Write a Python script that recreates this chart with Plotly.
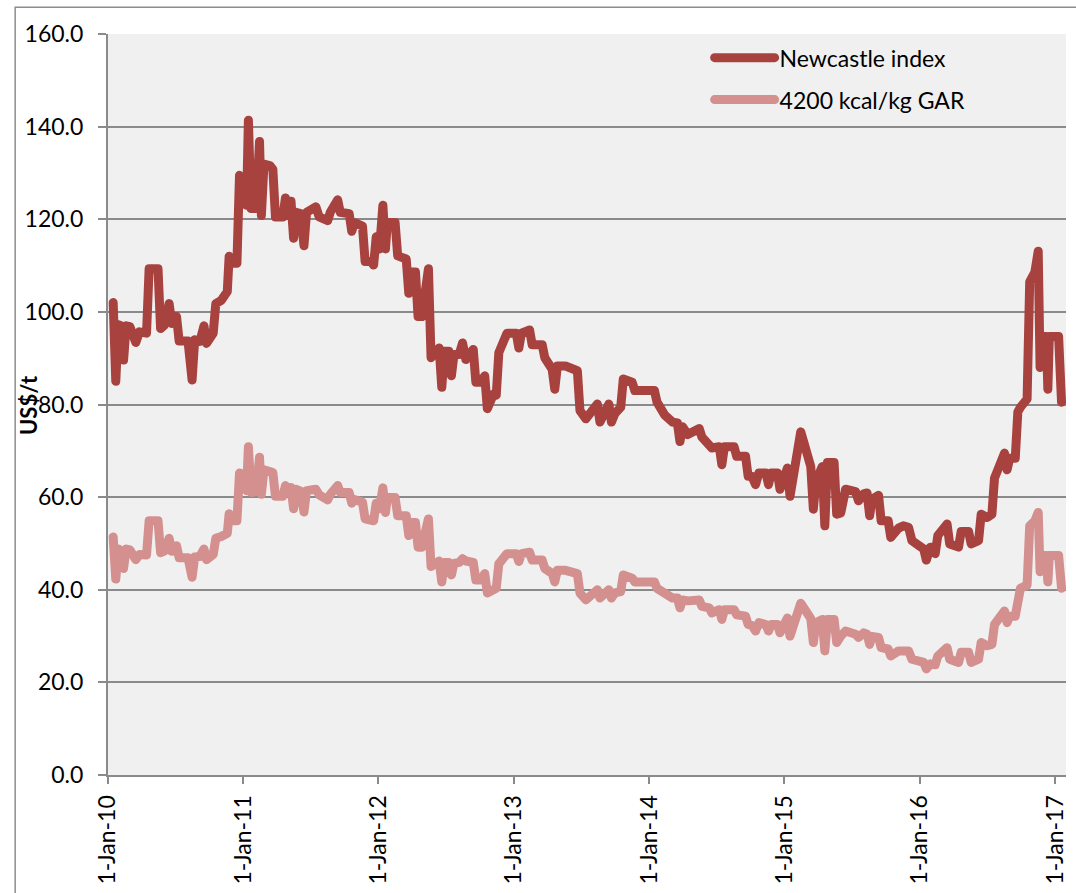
import plotly.graph_objects as go

# Weekly thermal coal prices, US$/t
dates = [
    # 2010
    "2010-01-15", "2010-01-22", "2010-01-29", "2010-02-05", "2010-02-12", "2010-02-19",
    "2010-03-01", "2010-03-17", "2010-03-27", "2010-04-15", "2010-04-22", "2010-05-16",
    "2010-05-23", "2010-06-03", "2010-06-15", "2010-06-22", "2010-07-05", "2010-07-12",
    "2010-08-05", "2010-08-16", "2010-08-23", "2010-09-06", "2010-09-17", "2010-09-24",
    "2010-10-12", "2010-10-19", "2010-11-03", "2010-11-19", "2010-11-24", "2010-12-01",
    "2010-12-15", "2010-12-22", "2010-12-29",
    # 2011
    "2011-01-05", "2011-01-10", "2011-01-15", "2011-01-22", "2011-02-05", "2011-02-14",
    "2011-02-19", "2011-02-26", "2011-03-14", "2011-03-22", "2011-03-29", "2011-04-18",
    "2011-04-25", "2011-05-02", "2011-05-10", "2011-05-17", "2011-05-23", "2011-06-05",
    "2011-06-14", "2011-06-21", "2011-07-16", "2011-07-25", "2011-08-17", "2011-08-24",
    "2011-09-13", "2011-09-20", "2011-10-14", "2011-10-21", "2011-10-28", "2011-11-19",
    "2011-11-26", "2011-12-12", "2011-12-19", "2011-12-26",
    # 2012
    "2012-01-04", "2012-01-13", "2012-01-20", "2012-01-25", "2012-02-15", "2012-02-22",
    "2012-03-16", "2012-03-23", "2012-03-29", "2012-04-10", "2012-04-17", "2012-04-27",
    "2012-05-15", "2012-05-22", "2012-06-13", "2012-06-20", "2012-06-27", "2012-07-09",
    "2012-07-16", "2012-07-23", "2012-08-06", "2012-08-15", "2012-08-24", "2012-09-13",
    "2012-09-20", "2012-10-03", "2012-10-14", "2012-10-21", "2012-11-07", "2012-11-14",
    "2012-11-21", "2012-12-13",
    # 2013
    "2013-01-07", "2013-01-14", "2013-01-21", "2013-02-12", "2013-02-19", "2013-03-18",
    "2013-03-25", "2013-04-14", "2013-04-21", "2013-04-28", "2013-05-20", "2013-06-21",
    "2013-06-28", "2013-07-14", "2013-08-14", "2013-08-21", "2013-09-14", "2013-09-21",
    "2013-09-30", "2013-10-16", "2013-10-23", "2013-11-16", "2013-11-23",
    # 2014
    "2014-01-15", "2014-01-22", "2014-02-12", "2014-03-05", "2014-03-18", "2014-03-25",
    "2014-04-01", "2014-04-15", "2014-05-16", "2014-05-23", "2014-06-12", "2014-06-19",
    "2014-07-09", "2014-07-16", "2014-07-23", "2014-08-18", "2014-08-25", "2014-09-18",
    "2014-09-25", "2014-10-05", "2014-10-15", "2014-10-24", "2014-11-12", "2014-11-19",
    "2014-11-26", "2014-12-13", "2014-12-20",
    # 2015
    "2015-01-09", "2015-01-16", "2015-01-31", "2015-02-14", "2015-03-13", "2015-03-20",
    "2015-03-27", "2015-04-13", "2015-04-20", "2015-04-27", "2015-05-15", "2015-05-22",
    "2015-06-02", "2015-06-15", "2015-07-12", "2015-07-20", "2015-08-03", "2015-08-12",
    "2015-08-19", "2015-08-25", "2015-09-12", "2015-09-19", "2015-10-08", "2015-10-15",
    "2015-11-05", "2015-11-18", "2015-12-02", "2015-12-11",
    # 2016
    "2016-01-12", "2016-01-19", "2016-01-30", "2016-02-12", "2016-02-19", "2016-03-15",
    "2016-03-22", "2016-04-15", "2016-04-22", "2016-05-12", "2016-05-19", "2016-06-08",
    "2016-06-15", "2016-07-01", "2016-07-14", "2016-07-21", "2016-08-01", "2016-08-17",
    "2016-08-24", "2016-08-31", "2016-09-15", "2016-09-22", "2016-09-29", "2016-10-17",
    "2016-10-24", "2016-11-07", "2016-11-16", "2016-11-21", "2016-11-25", "2016-12-01",
    "2016-12-08", "2016-12-12", "2016-12-16",
    # 2017
    "2017-01-10", "2017-01-18",
]

newcastle = [
    # 2010
    102.0, 85.0, 97.2, 97.0, 89.6, 97.0,
    96.8, 93.4, 95.7, 95.4, 109.3, 109.3,
    96.4, 97.2, 101.8, 97.5, 99.0, 93.7,
    93.7, 85.3, 94.0, 93.6, 97.0, 93.2,
    95.4, 101.8, 102.5, 104.4, 112.0, 110.5,
    110.5, 129.5, 128.4,
    # 2011
    123.0, 123.0, 141.4, 122.3, 122.3, 136.8,
    120.8, 131.9, 131.6, 130.8, 120.5, 120.5,
    124.6, 120.8, 123.9, 115.9, 121.5, 121.2,
    114.3, 121.5, 122.7, 120.5, 119.7, 121.5,
    124.2, 121.5, 121.2, 117.4, 119.3, 118.5,
    110.9, 110.9, 110.1, 116.2,
    # 2012
    113.6, 123.0, 113.6, 119.3, 119.3, 112.1,
    111.4, 104.0, 108.6, 108.6, 99.0, 99.0,
    109.3, 90.1, 92.2, 83.7, 91.5, 91.5,
    86.2, 90.8, 90.8, 93.3, 89.7, 91.9,
    84.8, 84.8, 86.2, 79.1, 82.3, 82.0,
    91.2, 95.4,
    # 2013
    95.4, 92.2, 95.4, 96.1, 92.9, 92.9,
    90.1, 87.6, 83.3, 88.3, 88.3, 87.3,
    78.7, 76.9, 80.1, 76.2, 80.1, 76.2,
    78.0, 79.4, 85.5, 84.8, 83.0,
    # 2014
    83.0, 80.5, 77.7, 76.2, 76.0, 72.0,
    75.2, 73.5, 74.8, 73.0, 71.6, 70.6,
    70.9, 67.0, 70.9, 70.9, 68.8, 68.8,
    64.5, 64.5, 62.7, 65.2, 65.2, 62.7,
    65.2, 65.2, 61.7,
    # 2015
    66.3, 60.2, 66.3, 74.1, 66.6, 57.4,
    63.4, 66.6, 53.8, 67.5, 67.5, 56.3,
    56.6, 61.7, 61.2, 59.2, 60.7, 60.9,
    56.0, 59.5, 60.4, 54.9, 54.9, 51.3,
    53.3, 53.8, 53.5, 50.6,
    # 2016
    48.8, 46.4, 49.2, 47.8, 51.7, 54.2,
    49.9, 49.2, 52.6, 52.6, 49.9, 50.6,
    56.3, 55.6, 56.3, 64.1, 66.3, 69.5,
    65.9, 68.4, 68.4, 78.4, 79.4, 81.2,
    106.5, 108.6, 113.1, 88.0, 89.0, 94.7,
    94.7, 83.3, 94.7,
    # 2017
    94.7, 80.5,
]

gar4200 = [
    # 2010
    51.4, 42.3, 48.8, 48.5, 44.6, 48.8,
    48.6, 46.5, 47.6, 47.5, 54.9, 54.9,
    48.0, 48.4, 51.1, 48.3, 49.5, 46.9,
    46.9, 42.7, 47.1, 47.2, 48.8, 46.5,
    47.6, 51.1, 51.5, 52.2, 56.4, 54.9,
    54.9, 65.2, 65.0,
    # 2011
    61.4, 61.4, 70.9, 61.0, 61.2, 68.6,
    60.6, 65.9, 65.5, 65.3, 60.2, 60.2,
    62.5, 61.0, 62.1, 57.5, 61.7, 61.3,
    56.8, 61.4, 61.7, 60.5, 59.4, 60.6,
    62.5, 61.0, 61.0, 58.7, 59.5, 58.9,
    55.3, 55.3, 54.9, 58.7,
    # 2012
    57.5, 62.0, 56.7, 59.9, 59.9, 56.0,
    56.0, 51.7, 54.5, 54.5, 49.2, 49.2,
    55.3, 45.0, 46.2, 41.7, 45.9, 45.9,
    43.2, 45.7, 45.9, 46.7, 46.2, 45.9,
    42.1, 42.1, 43.5, 39.3, 40.3, 40.3,
    45.6, 47.8,
    # 2013
    47.8, 46.1, 47.8, 48.1, 46.4, 46.4,
    44.6, 43.5, 41.7, 44.2, 44.2, 43.5,
    39.3, 37.8, 40.0, 38.2, 40.0, 38.2,
    39.3, 39.6, 43.2, 42.5, 41.7,
    # 2014
    41.7, 40.3, 39.0, 38.2, 38.2, 36.1,
    37.8, 37.6, 37.8, 36.4, 36.1, 35.0,
    35.7, 33.6, 35.7, 35.7, 34.6, 34.3,
    32.5, 32.3, 31.1, 32.9, 32.5, 31.1,
    32.5, 32.5, 30.7,
    # 2015
    33.9, 30.0, 33.6, 37.1, 33.8, 28.6,
    32.9, 33.6, 26.8, 33.6, 33.6, 28.6,
    30.0, 31.1, 30.4, 29.7, 30.7, 30.4,
    28.2, 29.9, 29.7, 27.5, 27.2, 25.7,
    26.8, 26.6, 26.8, 25.0,
    # 2016
    24.3, 22.9, 24.0, 23.8, 25.7, 27.5,
    25.0, 24.3, 26.5, 26.5, 24.3, 25.0,
    28.6, 27.9, 28.2, 32.5, 33.9, 35.4,
    32.9, 34.3, 34.3, 39.3, 40.3, 41.0,
    53.8, 54.9, 56.7, 43.9, 44.2, 47.4,
    47.4, 41.7, 47.4,
    # 2017
    47.4, 40.3,
]

GRID = "#8A8A8A"
FONT = "Lato, 'Open Sans', sans-serif"

fig = go.Figure()
fig.add_trace(go.Scatter(
    x=dates, y=newcastle, mode="lines", name="Newcastle index",
    line=dict(color="#A8423F", width=9), legendgroup="a",
))
fig.add_trace(go.Scatter(
    x=dates, y=gar4200, mode="lines", name="4200 kcal/kg GAR",
    line=dict(color="#D4908F", width=9), legendgroup="b",
))

fig.update_layout(
    width=1076, height=893,
    margin=dict(l=108, r=8, t=34, b=109),
    paper_bgcolor="white",
    plot_bgcolor="#F0F0F0",
    font=dict(family=FONT, size=23, color="black"),
    showlegend=True,
    legend=dict(
        x=0.628, y=0.997, xanchor="left", yanchor="top",
        bgcolor="rgba(0,0,0,0)", itemwidth=60,
        tracegroupgap=9, font=dict(size=23),
    ),
    xaxis=dict(
        type="date",
        range=["2010-01-01", "2017-01-30"],
        tick0="2010-01-01", dtick="M12",
        tickformat="%-d-%b-%y", tickangle=-90,
        ticks="outside", ticklen=7, tickwidth=2, tickcolor=GRID,
        ticklabelstandoff=2,
        showline=True, linecolor=GRID, linewidth=2,
        showgrid=False, zeroline=False,
    ),
    yaxis=dict(
        range=[0, 160], dtick=20, tickformat=".1f",
        ticks="outside", ticklen=8, tickwidth=2, tickcolor=GRID,
        ticklabelstandoff=10,
        showline=True, linecolor=GRID, linewidth=2,
        showgrid=True, gridcolor=GRID, gridwidth=2,
        zeroline=False,
    ),
    annotations=[dict(
        text="<b>US$/t</b>", textangle=-90, showarrow=False,
        xref="paper", yref="paper", x=-0.083, y=0.5,
        xanchor="center", yanchor="middle", font=dict(size=22),
    )],
    shapes=[dict(
        type="rect", xref="paper", yref="paper",
        x0=-0.0969, x1=1.03, y0=-0.2, y1=1.036,
        line=dict(color="#8C8C8C", width=1.5), layer="below",
    )],
)

post = (
    "document.body.style.margin='0';"
    "var s=document.createElement('style');"
    "s.textContent='path.js-line,.legendlines path{stroke-linejoin:round;stroke-linecap:round}';"
    "document.head.appendChild(s);"
)
fig.write_html("out.html", post_script=post)
